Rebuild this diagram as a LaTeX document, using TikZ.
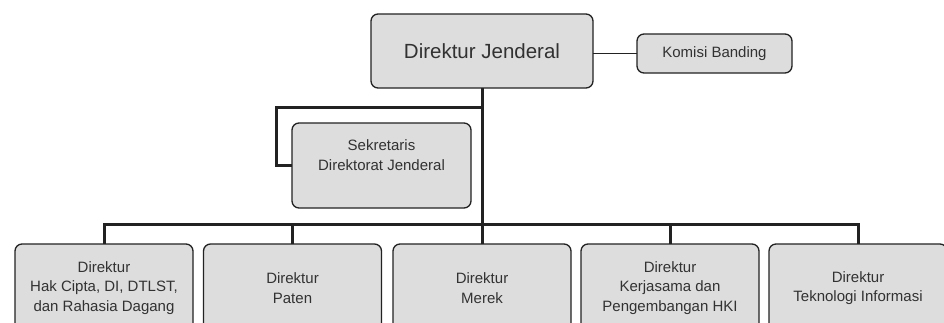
\documentclass[tikz,border=0pt]{standalone}
\usepackage{fontspec}
\setmainfont{Liberation Sans}
\usetikzlibrary{positioning}
\definecolor{BoxGray}{RGB}{221,221,221}
\definecolor{LineDark}{RGB}{34,34,34}
\definecolor{TextDark}{RGB}{50,50,50}

\tikzset{
	unit/.style={draw=LineDark, line width=1.3pt, fill=BoxGray, rounded corners=7pt,
		inner sep=0pt, outer sep=0pt, text=TextDark, align=center},
	dirbox/.style={unit, minimum width=178pt, minimum height=88pt,
		font=\fontsize{15}{19.5}\selectfont},
	link/.style={draw=LineDark, line width=3pt}
}

\begin{document}
\begin{tikzpicture}[x=1pt, y=-1pt]
		\useasboundingbox (0, 0) rectangle (944, 322);
		
		% top level
		\node[unit, minimum width=222pt, minimum height=74pt, font=\fontsize{20.5}{24}\selectfont]
			(dj) at (482, 51) {Direktur Jenderal};
		\node[unit, minimum width=155pt, minimum height=39pt, font=\fontsize{15}{18}\selectfont]
			(kb) at (714.5, 53.5) {Komisi Banding};
		\draw[draw=LineDark, line width=1.2pt] (kb.west) -- (kb.west -| dj.east);
		
		% secretariat
		\node[unit, minimum width=179pt, minimum height=85pt] (sek) at (381.5, 165.5) {};
		\node[text=TextDark, align=center, font=\fontsize{15}{19.5}\selectfont]
			(sektxt) at (381.5, 155) {Sekretaris\\Direktorat Jenderal};
		
		% directorates
		\node[dirbox] (d1) at (104, 288) {Direktur\\Hak Cipta, DI, DTLST,\\dan Rahasia Dagang};
		\node[dirbox] (d2) at (292.5, 288) {Direktur\\Paten};
		\node[dirbox] (d3) at (482, 288) {Direktur\\Merek};
		\node[dirbox] (d4) at (670, 288) {Direktur\\Kerjasama dan\\Pengembangan HKI};
		\node[dirbox] (d5) at (858, 288) {Direktur\\Teknologi Informasi};
		
		\coordinate (bus) at (482, 224);
		\coordinate (fork) at (482, 107);
		\coordinate (bend) at (276, 107);
		
		\draw[link] (dj.south) -- (d3.north);
		\draw[link] (fork) -- (bend) |- (sek.west);
		\draw[link, line cap=rect] (d1.north |- bus) -- (d5.north |- bus);
		\draw[link] (d1.north |- bus) -- (d1.north);
		\draw[link] (d2.north |- bus) -- (d2.north);
		\draw[link] (d4.north |- bus) -- (d4.north);
		\draw[link] (d5.north |- bus) -- (d5.north);
	\end{tikzpicture}
\end{document}
